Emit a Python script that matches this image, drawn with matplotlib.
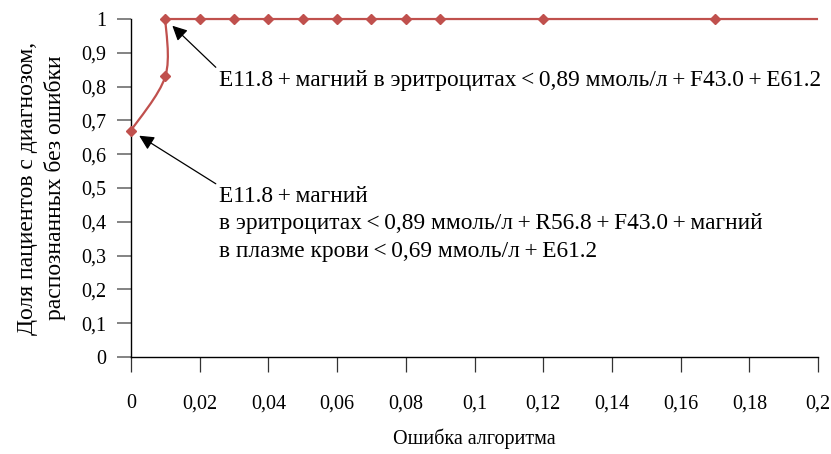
import numpy as np
import matplotlib
matplotlib.use("Agg")
import matplotlib.pyplot as plt
from matplotlib.path import Path
from matplotlib.patches import PathPatch

plt.rcParams['font.family'] = ['Liberation Serif', 'DejaVu Serif']

# error of the algorithm vs share of patients recognised without error
err = [0.0, 0.01, 0.01, 0.02, 0.03, 0.04, 0.05, 0.06, 0.07, 0.08, 0.09, 0.12, 0.17, 0.2]
share = [0.67, 0.83, 1.0, 1.0, 1.0, 1.0, 1.0, 1.0, 1.0, 1.0, 1.0, 1.0, 1.0, 1.0]

xticks = [0, 0.02, 0.04, 0.06, 0.08, 0.1, 0.12, 0.14, 0.16, 0.18, 0.2]
xticklabels = ['0', '0,02', '0,04', '0,06', '0,08', '0,1', '0,12', '0,14', '0,16', '0,18', '0,2']
yticks = [0, 0.1, 0.2, 0.3, 0.4, 0.5, 0.6, 0.7, 0.8, 0.9, 1.0]
yticklabels = ['0', '0,1', '0,2', '0,3', '0,4', '0,5', '0,6', '0,7', '0,8', '0,9', '1']

T = '\u2009'  # thin space around the signs
label_top = f'E11.8{T}+{T}магний в эритроцитах{T}<{T}0,89 ммоль/л{T}+{T}F43.0{T}+{T}E61.2'
label_bottom = (f'E11.8{T}+{T}магний\n'
                f'в эритроцитах{T}<{T}0,89 ммоль/л{T}+{T}R56.8{T}+{T}F43.0{T}+{T}магний\n'
                f'в плазме крови{T}<{T}0,69 ммоль/л{T}+{T}E61.2')

RED = '#c0504d'

fig = plt.figure(figsize=(8.31, 4.54), dpi=100)
ax = fig.add_axes([0.1576, 0.2137, 0.8268, 0.7444])
ax.set_xlim(0, 0.2)
ax.set_ylim(0, 1)


def smooth_path(xs, ys, ymin, ymax):
    """Cubic Bezier through the points (Catmull-Rom tangents, scaled to axis
    spans); control points never step back in x nor leave the y range."""
    sx, sy = 0.2, 1.0
    pts = np.column_stack([np.asarray(xs) / sx, np.asarray(ys) / sy])
    n = len(pts)
    verts = [pts[0]]
    codes = [Path.MOVETO]
    for i in range(n - 1):
        p0 = pts[max(i - 1, 0)]
        p1 = pts[i]
        p2 = pts[i + 1]
        p3 = pts[min(i + 2, n - 1)]
        c1 = p1 + (p2 - p0) / 6.0
        c2 = p2 - (p3 - p1) / 6.0
        c1[0] = max(c1[0], p1[0])
        c2[0] = max(c2[0], p1[0])
        c1[1] = np.clip(c1[1], ymin / sy, ymax / sy)
        c2[1] = np.clip(c2[1], ymin / sy, ymax / sy)
        verts += [c1, c2, p2]
        codes += [Path.CURVE4] * 3
    v = np.array(verts)
    v[:, 0] *= sx
    v[:, 1] *= sy
    return Path(v, codes)


path = smooth_path(err, share, min(share), max(share))
ax.add_patch(PathPatch(path, facecolor='none', edgecolor=RED, lw=1.6,
                       clip_on=False, zorder=3))
ax.plot(err[:-1], share[:-1], linestyle='none', marker='D', markersize=5.5,
        color=RED, clip_on=False, zorder=4)

ax.set_xticks(xticks)
ax.set_xticklabels(xticklabels)
ax.set_yticks(yticks)
ax.set_yticklabels(yticklabels)

for s in ['top', 'right']:
    ax.spines[s].set_visible(False)
ax.spines['left'].set_linewidth(1.0)
ax.spines['bottom'].set_linewidth(1.0)

ax.tick_params(axis='x', direction='out', length=11, width=0.9, pad=16,
               labelsize=14.5, color='#333333')
ax.tick_params(axis='y', direction='out', length=10, width=1.2, pad=8,
               labelsize=14.5, color='#6e6e6e')

ax.set_xlabel('Ошибка алгоритма', fontsize=14.5, labelpad=11)
ax.set_ylabel('Доля пациентов с диагнозом,\nраспознанных без ошибки',
              fontsize=17, labelpad=11, linespacing=1.3)

arrow = dict(arrowstyle='-|>', color='black', lw=0.9, mutation_scale=22,
             shrinkA=0, shrinkB=7, relpos=(0, 1))

ax.annotate(label_top, xy=(err[2], share[2]), xytext=(0.0255, 0.802),
            textcoords='data', ha='left', va='baseline', fontsize=16.8,
            arrowprops=arrow, annotation_clip=False)
ax.annotate(label_bottom, xy=(err[0], share[0]), xytext=(0.0255, 0.296),
            textcoords='data', ha='left', va='baseline', fontsize=16.8,
            linespacing=1.42, arrowprops=arrow, annotation_clip=False)

fig.savefig('out.png', dpi=100)
